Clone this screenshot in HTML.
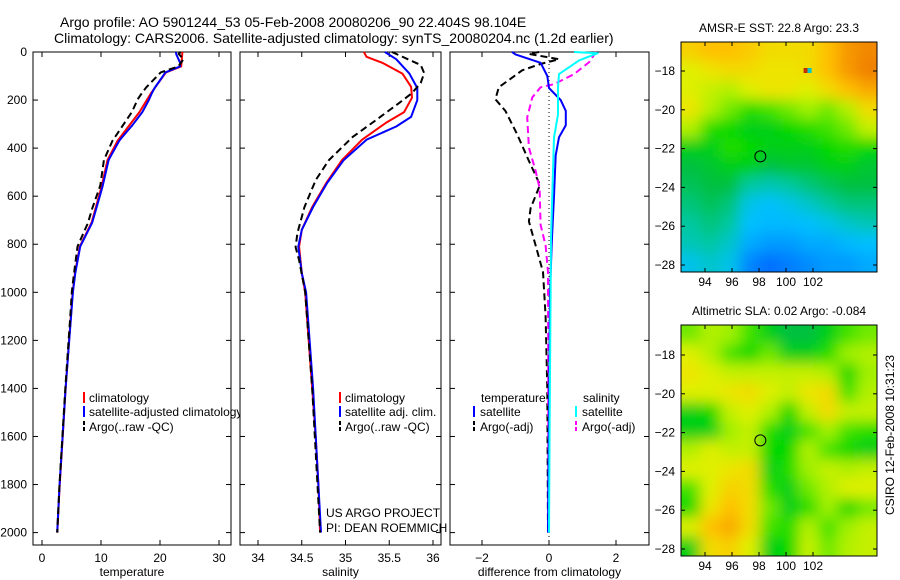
<!DOCTYPE html>
<html><head><meta charset="utf-8">
<style>
html,body{margin:0;padding:0;background:#fff;}
svg{display:block;font-family:"Liberation Sans",sans-serif;}
</style></head>
<body>
<svg id="chart" width="900" height="580" viewBox="0 0 900 580" xmlns="http://www.w3.org/2000/svg">
<defs>
<filter id="blur" x="-20%" y="-20%" width="140%" height="140%"><feGaussianBlur stdDeviation="7"/></filter>
<clipPath id="clipMap1"><rect x="681" y="42" width="196" height="230"/></clipPath>
<clipPath id="clipMap2"><rect x="681" y="325" width="196" height="231"/></clipPath>
</defs>
<rect width="900" height="580" fill="#fff"/>
<text x="60" y="27" font-size="14">Argo profile: AO 5901244_53 05-Feb-2008 20080206_90 22.404S 98.104E</text>
<text x="54" y="43" font-size="14">Climatology: CARS2006. Satellite-adjusted climatology: synTS_20080204.nc (1.2d earlier)</text>
<g id="g"></g>
<text transform="translate(894,435) rotate(-90)" text-anchor="middle" font-size="12">CSIRO 12-Feb-2008 10:31:23</text>
</svg>
<script>
// ---------- data ----------
const depthTicks = [0,200,400,600,800,1000,1200,1400,1600,1800,2000];
const tempTicks = [0,10,20,30];
const salTicks = [34,34.5,35,35.5,36];
const diffTicks = [-2,0,2];
const climTDepth = [0,60,85,170,250,370,450,560,710,810,920,1000,1200,1400,1600,1800,2000];
const climT      = [23.8,23.6,21,18.5,16.5,12.8,11.1,10.1,8.4,6.4,5.6,5.2,4.6,4.0,3.5,3.0,2.6];
const satTDiffDepth = [0,10,45,100,150,200,245,305,355,430,600,800,1000,1500,2000];
const satTDiff      = [-1.1,-1.0,-0.25,-0.05,0,0.35,0.5,0.5,0.3,0.2,0.15,0.08,0.03,0.0,-0.03];
const argoTDiffDepth = [0,8,30,50,76,147,197,245,343,453,553,650,705,805,915,1100,1400,2000];
const argoTDiff      = [-0.3,-0.6,0.3,-0.25,-0.8,-1.5,-1.6,-1.3,-0.95,-0.6,-0.27,-0.55,-0.6,-0.4,-0.18,-0.1,-0.05,-0.03];
const climSDepth = [0,20,45,90,145,190,250,295,365,450,545,645,740,810,920,1000,1200,1400,1600,1800,2000];
const climS      = [35.21,35.24,35.42,35.65,35.75,35.76,35.67,35.46,35.19,34.96,34.78,34.62,34.5,34.47,34.5,34.54,34.58,34.62,34.66,34.69,34.71];
const adjSDepth = [0,30,90,150,200,270,310,365,450,545,645,740,810,920,1000,1400,2000];
const adjS      = [35.45,35.58,35.73,35.82,35.82,35.75,35.58,35.24,34.98,34.79,34.63,34.5,34.46,34.5,34.55,34.63,34.72];
const argoSDepth = [0,54,88,129,171,213,283,354,450,533,646,754,812,866,1000,1400,2000];
const argoS      = [35.53,35.86,35.9,35.86,35.76,35.61,35.35,35.08,34.81,34.66,34.53,34.45,34.43,34.47,34.54,34.62,34.71];
const satSDiffDepth = [0,5,35,92,147,260,356,495,775,1500,2000];
const satSDiff      = [0.75,1.45,0.9,0.3,0.27,0.27,0.15,0.12,0.06,0.02,0.0];
const argoSDiffDepth = [0,42,92,134,147,189,272,398,495,566,720,805,915,1500,2000];
const argoSDiff      = [1.4,1.2,0.75,0.15,-0.25,-0.5,-0.65,-0.6,-0.4,-0.28,-0.25,-0.1,-0.03,-0.02,-0.02];
const lonTicks = [94,96,98,100,102];
const latTicks = [-18,-20,-22,-24,-26,-28];
const argoLon = 98.1, argoLat = -22.4;
const sstGrid = [
[.82,.85,.85,.83,.80,.80,.80,.85,.90,.92],
[.75,.78,.80,.80,.78,.78,.80,.85,.90,.93],
[.75,.72,.70,.75,.78,.78,.75,.80,.85,.88],
[.78,.70,.65,.60,.62,.65,.68,.65,.70,.80],
[.70,.60,.58,.55,.55,.58,.60,.62,.65,.72],
[.55,.55,.60,.58,.55,.55,.55,.58,.60,.58],
[.50,.52,.55,.55,.50,.52,.52,.55,.55,.52],
[.48,.50,.50,.42,.40,.42,.45,.48,.50,.50],
[.45,.48,.45,.35,.33,.35,.38,.42,.45,.45],
[.42,.45,.42,.33,.32,.32,.33,.35,.38,.40],
[.40,.42,.38,.30,.28,.28,.30,.30,.32,.33],
[.35,.38,.35,.25,.22,.24,.26,.28,.28,.30]];
const slaGrid = [
[.65,.70,.68,.62,.55,.50,.50,.55,.62,.65],
[.75,.70,.62,.58,.65,.55,.55,.60,.68,.70],
[.78,.75,.72,.72,.72,.72,.72,.70,.58,.68],
[.75,.75,.78,.80,.75,.72,.78,.80,.62,.70],
[.55,.58,.72,.75,.70,.58,.72,.80,.72,.72],
[.55,.55,.68,.72,.60,.55,.62,.68,.62,.60],
[.70,.75,.72,.72,.58,.58,.70,.62,.58,.55],
[.75,.75,.78,.80,.55,.60,.68,.72,.70,.72],
[.62,.75,.82,.80,.60,.55,.65,.70,.75,.75],
[.58,.78,.85,.80,.65,.55,.60,.68,.58,.65],
[.75,.85,.88,.80,.62,.60,.70,.62,.68,.72],
[.55,.80,.82,.75,.55,.58,.72,.65,.70,.72]];

// ---------- scales ----------
const yD = d => 52 + d*0.2403;
const xT = t => 42 + t*5.9;
const xS = s => 258 + (s-34)*87.5;
const xD = v => 549 + v*33.5;
const NS='http://www.w3.org/2000/svg';
const G=document.getElementById('g');
function mk(tag,attrs,parent){const e=document.createElementNS(NS,tag);for(const k in attrs)e.setAttribute(k,attrs[k]);(parent||G).appendChild(e);return e;}
function txt(s,x,y,anchor,size){const e=mk('text',{x:x,y:y,'font-size':size||12,'text-anchor':anchor||'start'});e.textContent=s;return e;}
function interp(ds,vs,d){for(let i=0;i<ds.length-1;i++){if(d>=ds[i]&&d<=ds[i+1]){const f=(d-ds[i])/(ds[i+1]-ds[i]);return vs[i]+f*(vs[i+1]-vs[i]);}}return vs[vs.length-1];}
function line(ds,vs,xf,color,dash,name){
  const pts=ds.map((d,i)=>xf(vs[i]).toFixed(1)+','+yD(d).toFixed(1)).join(' ');
  const p=mk('polyline',{points:pts,fill:'none',stroke:color,'stroke-width':2,'stroke-linejoin':'round'});
  if(dash)p.setAttribute('stroke-dasharray','7,4');
  
  
}
function panel(x0,x1,ticks,xf,name,labels,xtitle){
  const r=mk('rect',{x:x0,y:52,width:x1-x0,height:493,fill:'#fff',stroke:'#000','stroke-width':1});
  
  
  depthTicks.forEach(d=>{mk('line',{x1:x0,x2:x0+5,y1:yD(d),y2:yD(d),stroke:'#000'});mk('line',{x1:x1,x2:x1-5,y1:yD(d),y2:yD(d),stroke:'#000'});});
  ticks.forEach(t=>{const x=xf(t);mk('line',{x1:x,x2:x,y1:52,y2:57,stroke:'#000'});mk('line',{x1:x,x2:x,y1:545,y2:540,stroke:'#000'});
    const l=txt(String(t).replace('-','\u2212'),x,562,'middle',12);
    
    });
  const xt=txt(xtitle,(x0+x1)/2,576,'middle',12);
  
  
}
function legendMark(x,y,color,dash){const l=mk('line',{x1:x,x2:x,y1:y-10,y2:y+1,stroke:color,'stroke-width':2});if(dash)l.setAttribute('stroke-dasharray','4,2');
  
  }
function legText(s,x,y){const t=txt(s,x,y,'start',12);
  
  }

// ---------- panel 1 temperature ----------
panel(33,231,tempTicks,xT,'temperature-panel',true,'temperature');
depthTicks.forEach(d=>{const l=txt(String(d),27,yD(d)+4,'end',12);
  
  });
line(climTDepth,climT,xT,'#ff0000',false,'climatology-temperature-line');
const adjTDepth=satTDiffDepth.concat(climTDepth).sort((a,b)=>a-b).filter((v,i,a)=>i===0||v!==a[i-1]);
line(adjTDepth,adjTDepth.map(d=>interp(climTDepth,climT,d)+interp(satTDiffDepth,satTDiff,d)),xT,'#0000ff',false,'satellite-adjusted-temperature-line');
const argTDepth=argoTDiffDepth.concat(climTDepth).sort((a,b)=>a-b).filter((v,i,a)=>i===0||v!==a[i-1]);
line(argTDepth,argTDepth.map(d=>interp(climTDepth,climT,d)+interp(argoTDiffDepth,argoTDiff,d)),xT,'#000000',true,'argo-temperature-line');
legendMark(84,402,'#ff0000');legText('climatology',89,402);
legendMark(84,416,'#0000ff');legText('satellite-adjusted climatology',89,416);
legendMark(84,431,'#000',true);legText('Argo(..raw -QC)',89,431);

// ---------- panel 2 salinity ----------
panel(240,441,salTicks,xS,'salinity-panel',false,'salinity');
line(climSDepth,climS,xS,'#ff0000',false,'climatology-salinity-line');
line(adjSDepth,adjS,xS,'#0000ff',false,'satellite-adjusted-salinity-line');
line(argoSDepth,argoS,xS,'#000000',true,'argo-salinity-line');
legendMark(340,402,'#ff0000');legText('climatology',345,402);
legendMark(340,416,'#0000ff');legText('satellite adj. clim.',345,416);
legendMark(340,431,'#000',true);legText('Argo(..raw -QC)',345,431);
const c1=txt('US ARGO PROJECT',326,517,'start',12);


const c2=txt('PI: DEAN ROEMMICH',326,532,'start',12);



// ---------- panel 3 differences ----------
panel(450,649,diffTicks,xD,'difference-panel',false,'difference from climatology');
const zl=mk('line',{x1:xD(0),x2:xD(0),y1:52,y2:545,stroke:'#000','stroke-width':1,'stroke-dasharray':'1,3'});


line(argoTDiffDepth,argoTDiff,xD,'#000000',true,'argo-temperature-diff-line');
line(argoSDiffDepth,argoSDiff,xD,'#ff00ff',true,'argo-salinity-diff-line');
line(satTDiffDepth,satTDiff,xD,'#0000ff',false,'satellite-temperature-diff-line');
line(satSDiffDepth,satSDiff,xD,'#00ffff',false,'satellite-salinity-diff-line');
legText('temperature',481,402);legText('salinity',583,402);
legendMark(474,416,'#0000ff');legText('satellite',480,416);
legendMark(474,431,'#000',true);legText('Argo(-adj)',480,431);
legendMark(576,416,'#00ffff');legText('satellite',582,416);
legendMark(576,431,'#ff00ff',true);legText('Argo(-adj)',582,431);

// ---------- maps ----------
const stops=[[0,[0,0,160]],[0.2,[0,96,255]],[0.33,[0,192,255]],[0.42,[0,200,160]],[0.5,[0,192,64]],[0.58,[0,216,0]],[0.68,[160,240,0]],[0.76,[232,240,0]],[0.85,[255,192,0]],[0.93,[240,128,0]],[1,[192,0,0]]];
function cmap(v){for(let i=0;i<stops.length-1;i++){if(v<=stops[i+1][0]){const f=(v-stops[i][0])/(stops[i+1][0]-stops[i][0]);const a=stops[i][1],b=stops[i+1][1];return 'rgb('+a.map((c,k)=>Math.round(c+f*(b[k]-c))).join(',')+')';}}return 'rgb(192,0,0)';}
function mapPanel(grid,top,bottom,clip,name,title,lat18y,latScale){
  const left=681,right=877;
  const xL=lon=>705+(lon-94)*13.5;
  const yL=lat=>lat18y+(-18-lat)*latScale;
  const t=txt(title,(left+right)/2,top-10,'middle',12);
  
  
  const g=mk('g',{'clip-path':'url(#'+clip+')'});
  
  
  const inner=mk('g',{filter:'url(#blur)'},g);
  const nr=grid.length,nc=grid[0].length;const cw=(right-left)/nc,ch=(bottom-top)/nr;
  grid.forEach((row,r)=>row.forEach((v,c)=>{
    const x=left+c*cw-(c===0?20:0),y=top+r*ch-(r===0?20:0);
    const w=cw+0.6+(c===0||c===nc-1?20:0),h=ch+0.6+(r===0||r===nr-1?20:0);
    const cell=mk('rect',{x:x,y:y,width:w,height:h,fill:cmap(v)},inner);
    
    
  }));
  const fr=mk('rect',{x:left,y:top,width:right-left,height:bottom-top,fill:'none',stroke:'#000'});
  
  
  lonTicks.forEach(l=>{const x=xL(l);mk('line',{x1:x,x2:x,y1:top,y2:top+4,stroke:'#000'});mk('line',{x1:x,x2:x,y1:bottom,y2:bottom-4,stroke:'#000'});
    const lb=txt(String(l),x,bottom+14,'middle',12);
    
    });
  latTicks.forEach(l=>{const y=yL(l);mk('line',{x1:left,x2:left+4,y1:y,y2:y,stroke:'#000'});mk('line',{x1:right,x2:right-4,y1:y,y2:y,stroke:'#000'});
    const lb=txt(String(l).replace('-','\u2212'),675,y+4,'end',12);
    
    });
  const m=mk('circle',{cx:xL(argoLon),cy:yL(argoLat),r:5.5,fill:'none',stroke:'#000','stroke-width':1});
  
  
  return {xL,yL};
}
const m1=mapPanel(sstGrid,42,272,'clipMap1','sst-map','AMSR-E SST: 22.8 Argo: 23.3',71,19.4);
const px1=mk('rect',{x:m1.xL(101.6)-4,y:m1.yL(-18)-3,width:4,height:5,fill:'#c03000'});


const px2=mk('rect',{x:m1.xL(101.6),y:m1.yL(-18)-3,width:4,height:5,fill:'#00c8d0'});


mapPanel(slaGrid,325,556,'clipMap2','sla-map','Altimetric SLA: 0.02 Argo: -0.084',355,19.4);
</script>
</body></html>
